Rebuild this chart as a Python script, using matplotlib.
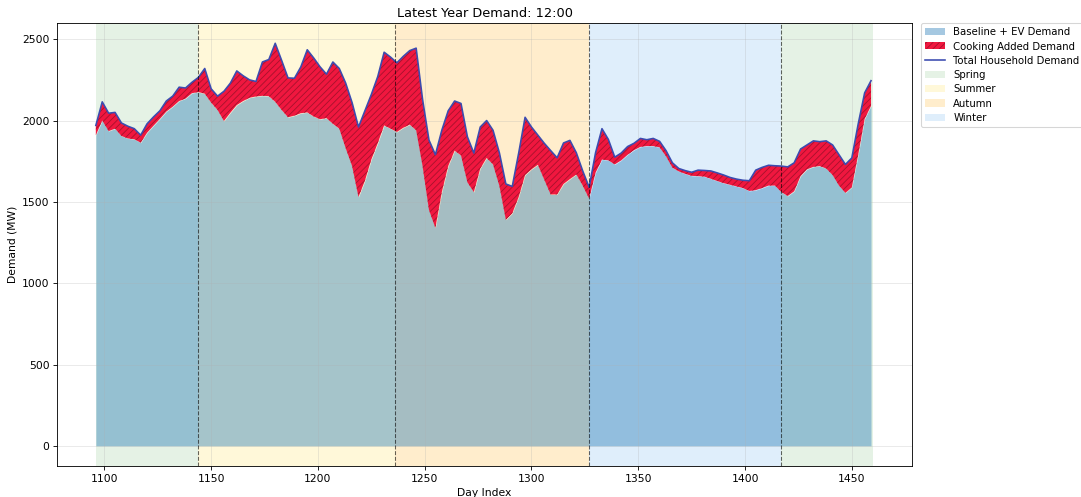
import numpy as np
import matplotlib
matplotlib.use('Agg')
import matplotlib.pyplot as plt
from matplotlib.patches import Patch
from matplotlib.lines import Line2D

# Day index, sampled every 3 days over the latest year
days = np.arange(1096, 1460, 3)

# Baseline + EV demand at 12:00 (MW)
baseline_ev = [
    1910, 2000, 1935, 1950, 1905, 1890, 1885, 1864, 1925, 1968,
    2010, 2055, 2085, 2120, 2135, 2168, 2175, 2165, 2110, 2065,
    1997, 2048, 2095, 2120, 2140, 2148, 2152, 2150, 2115, 2065,
    2020, 2030, 2045, 2050, 2025, 2008, 2015, 1980, 1950, 1830,
    1720, 1530, 1630, 1760, 1860, 1970, 1950, 1930, 1956, 1975,
    1940, 1720, 1450, 1340, 1560, 1720, 1815, 1785, 1620, 1560,
    1705, 1770, 1730, 1597, 1390, 1430, 1530, 1665, 1700, 1728,
    1636, 1545, 1546, 1610, 1640, 1669, 1600, 1520, 1679, 1760,
    1755, 1730, 1755, 1790, 1818, 1838, 1843, 1843, 1835, 1780,
    1710, 1687, 1672, 1660, 1658, 1655, 1642, 1628, 1615, 1605,
    1595, 1585, 1567, 1572, 1585, 1600, 1600, 1560, 1536, 1565,
    1658, 1700, 1715, 1720, 1705, 1665, 1600, 1555, 1590, 1790,
    2010, 2090,
]

# Total household demand including cooking (MW)
total_demand = [
    1970, 2115, 2045, 2050, 1985, 1965, 1950, 1910, 1980, 2022,
    2060, 2120, 2150, 2205, 2200, 2235, 2265, 2320, 2195, 2150,
    2180, 2230, 2305, 2275, 2250, 2240, 2360, 2375, 2475, 2370,
    2262, 2260, 2330, 2435, 2385, 2330, 2285, 2360, 2320, 2230,
    2110, 1960, 2060, 2160, 2270, 2420, 2390, 2355, 2395, 2430,
    2445, 2130, 1880, 1790, 1940, 2060, 2120, 2105, 1900, 1800,
    1960, 2000, 1940, 1800, 1610, 1595, 1800, 2020, 1960, 1910,
    1860, 1815, 1771, 1862, 1878, 1802, 1690, 1590, 1802, 1950,
    1884, 1775, 1800, 1840, 1860, 1890, 1882, 1890, 1872, 1815,
    1740, 1705, 1692, 1682, 1695, 1693, 1690, 1678, 1665, 1650,
    1640, 1633, 1630, 1695, 1712, 1725, 1722, 1720, 1715, 1740,
    1825, 1850, 1875, 1870, 1875, 1850, 1790, 1730, 1770, 1980,
    2170, 2245,
]

# Season spans (start day, end day)
season_names = ['Spring', 'Summer', 'Autumn', 'Winter', 'Spring']
season_starts = [1096, 1144, 1236, 1327, 1417]
season_ends = [1144, 1236, 1327, 1417, 1460]
season_colors = {'Spring': (0.0, 0.5, 0.0, 0.1),
                 'Summer': (1.0, 0.84, 0.0, 0.15),
                 'Autumn': (1.0, 0.65, 0.0, 0.2),
                 'Winter': (0.5, 0.75, 0.95, 0.25)}

baseline_ev = np.array(baseline_ev)
total_demand = np.array(total_demand)

fig = plt.figure(figsize=(14, 6.437), dpi=1081 / 14)
ax = fig.add_axes([0.0527, 0.0624, 0.791, 0.891])

for name, start, end in zip(season_names, season_starts, season_ends):
    ax.axvspan(start, end, color=season_colors[name], lw=0, zorder=0)
for start in season_starts[1:]:
    ax.axvline(start, color='black', linestyle='--', linewidth=1, alpha=0.6, zorder=4)

ax.fill_between(days, 0, baseline_ev, color='tab:blue', alpha=0.4, lw=0, zorder=1)
plt.rcParams['hatch.linewidth'] = 0.8
ax.fill_between(days, baseline_ev, total_demand, facecolor='#f0173f',
                edgecolor='#a8122c', hatch='////', lw=0, zorder=2)
ax.plot(days, total_demand, color='#3b4cb0', linewidth=1.5, zorder=3)

ax.set_title('Latest Year Demand: 12:00')
ax.set_xlabel('Day Index')
ax.set_ylabel('Demand (MW)')
ax.grid(True, alpha=0.3)

handles = [
    Patch(facecolor='tab:blue', alpha=0.4, label='Baseline + EV Demand'),
    Patch(facecolor='#f0173f', edgecolor='#a8122c', hatch='////', lw=0,
          label='Cooking Added Demand'),
    Line2D([0], [0], color='#3b4cb0', linewidth=1.5, label='Total Household Demand'),
]
for name in ['Spring', 'Summer', 'Autumn', 'Winter']:
    handles.append(Patch(facecolor=season_colors[name], label=name))
ax.legend(handles=handles, loc='upper left', bbox_to_anchor=(1.01, 1),
          borderaxespad=0, fontsize=9.5, labelspacing=0.42)

fig.savefig('out.png', dpi=1081 / 14)
